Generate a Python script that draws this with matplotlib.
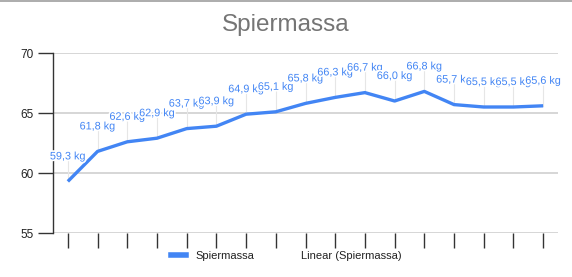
"""Spiermassa line chart with data labels."""

import matplotlib.pyplot as plt
import matplotlib.patheffects as pe
from matplotlib.lines import Line2D

plt.rcParams["font.family"] = ["Liberation Sans", "DejaVu Sans"]

TITLE = "Spiermassa"
SERIES_NAME = "Spiermassa"
TREND_NAME = "Linear (Spiermassa)"
values = [59.3, 61.8, 62.6, 62.9, 63.7, 63.9, 64.9, 65.1, 65.8,
          66.3, 66.7, 66.0, 66.8, 65.7, 65.5, 65.5, 65.6]
y_ticks = [55, 60, 65, 70]

BLUE = "#4285F4"
DPI = 100

fig = plt.figure(figsize=(5.72, 2.77), dpi=DPI)
ax = fig.add_axes([53 / 572, 1 - 233 / 277, 505 / 572, 180 / 277])

x = list(range(len(values)))
ax.set_xlim(-0.5, len(values) - 0.5)
ax.set_ylim(55, 70)

for y in y_ticks:
    ax.axhline(y, color="#d0d0d0", lw=1.2, zorder=0)

# leader lines and labels, 25 px above each point
px_per_unit = 180 / 15
for xi, v in zip(x, values):
    top = v + 25 / px_per_unit
    ax.plot([xi, xi], [v, top - 0.3], color="#e6e6e6", lw=0.8, zorder=1)
    ax.text(xi, top, f"{v:.1f} kg".replace(".", ","), ha="center", va="center",
            fontsize=7.8, color=BLUE, zorder=3,
            path_effects=[pe.withStroke(linewidth=2.5, foreground="white")])

ax.plot(x, values, color=BLUE, lw=2.4, solid_capstyle="butt", zorder=2)

ax.set_yticks(y_ticks)
ax.set_yticklabels([str(t) for t in y_ticks], fontsize=8.5, color="#222222")
ax.set_xticks(x)
ax.set_xticklabels([])
ax.tick_params(axis="y", length=11, width=1, color="#333333", pad=3)
ax.tick_params(axis="x", length=11, width=1, color="#333333")
for side in ["top", "right", "bottom"]:
    ax.spines[side].set_visible(False)
ax.spines["left"].set_color("#333333")
ax.spines["left"].set_linewidth(1)

fig.text(0.5, 1 - 25 / 277, TITLE, ha="center", va="center",
         fontsize=17.5, color="#757575")
fig.add_artist(Line2D([0, 1], [0.998, 0.998], color="#9e9e9e", lw=1.2))

handles = [Line2D([], [], color=BLUE, lw=4),
           Line2D([], [], color="white", lw=4)]
fig.legend(handles, [SERIES_NAME, TREND_NAME], loc="center",
           bbox_to_anchor=(0.5, 1 - 256 / 277), ncol=2, frameon=False,
           fontsize=8, handlelength=1.35, columnspacing=1.9,
           handletextpad=0.9, labelcolor="#222222")

fig.savefig("out.png", dpi=DPI)
